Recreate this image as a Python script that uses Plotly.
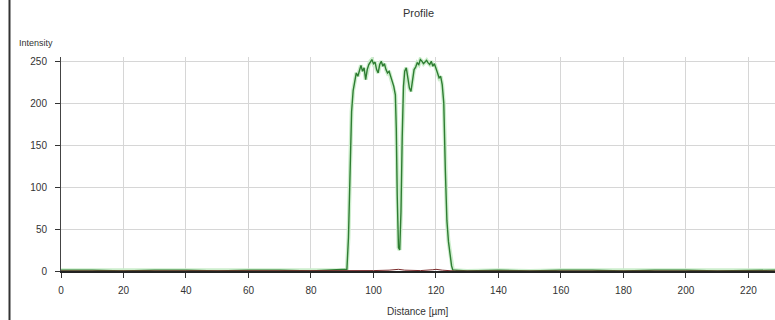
import plotly.graph_objects as go

# Green profile (intensity vs distance)
dist_green = [0, 10, 20, 30, 40, 50, 60, 70, 80, 88, 90.5, 91.5, 92.0, 92.5, 93.0, 93.5, 94.0, 94.5,
              95.0, 95.5, 96.0, 96.5, 97.0, 97.5, 98.0, 98.5, 99.0, 99.5, 100.0, 100.5, 101.0,
              101.5, 102.0, 102.5, 103.0, 103.5, 104.0, 104.5, 105.0, 105.5, 106.0, 106.5, 107.0,
              107.3, 107.6, 108.0, 108.4, 108.8, 109.2, 109.6, 110.0, 110.5, 111.0, 111.5, 112.0,
              112.5, 113.0, 113.5, 114.0, 114.5, 115.0, 115.5, 116.0, 116.5, 117.0, 117.5, 118.0,
              118.5, 119.0, 119.5, 120.0, 120.5, 121.0, 121.5, 122.0, 122.5, 123.0, 123.5, 124.0,
              124.5, 125.0, 125.4, 126, 130, 140, 150, 160, 170, 180, 190, 200, 210, 220, 228.5]
int_green = [1, 1, 0, 1, 1, 0, 1, 1, 0, 1, 1, 2, 40, 120, 190, 215, 228, 236,
             232, 240, 245, 238, 242, 228, 240, 246, 250, 252, 247, 249, 240,
             236, 246, 250, 244, 247, 240, 236, 238, 232, 226, 220, 210,
             170, 90, 28, 25, 70, 160, 220, 238, 242, 230, 218, 214,
             225, 240, 243, 248, 246, 252, 250, 247, 249, 251, 248, 246,
             250, 244, 247, 240, 236, 230, 232, 222, 200, 120, 60, 35,
             20, 6, 1, 1, 0, 1, 0, 1, 1, 0, 1, 1, 0, 1, 1]

# Red / dark channel near zero
dist_red = [0, 30, 60, 90, 100, 105, 108, 110, 115, 119, 120, 122, 126, 140, 160, 180, 200, 228.5]
int_red = [0, 0, 0, 0, 0.5, 1, 2, 1, 0.5, 1.5, 2, 1, 0, 0, 0, 0, 0, 0]

x_ticks = [0, 20, 40, 60, 80, 100, 120, 140, 160, 180, 200, 220]
y_ticks = [0, 50, 100, 150, 200, 250]

font = dict(family="Liberation Sans, DejaVu Sans, sans-serif", size=10, color="#333333")

fig = go.Figure()
fig.add_trace(go.Scatter(x=dist_green, y=int_green, mode="lines",
                         line=dict(color="#cdeecd", width=4), showlegend=False, hoverinfo="skip"))
fig.add_trace(go.Scatter(x=dist_green, y=int_green, mode="lines",
                         line=dict(color="#2e7d32", width=1.4), showlegend=False))
fig.add_trace(go.Scatter(x=dist_red, y=int_red, mode="lines",
                         line=dict(color="#7a2a2a", width=1), showlegend=False))

fig.update_layout(
    width=775, height=320,
    margin=dict(l=61, r=0, t=57, b=49),
    paper_bgcolor="white", plot_bgcolor="white",
    font=font,
    xaxis=dict(range=[0, 228.5], tickvals=x_ticks, showgrid=True, gridcolor="#d6d6d6",
               gridwidth=1, zeroline=False, showline=True, linecolor="#222222", linewidth=2,
               ticks="outside", ticklen=5, tickcolor="#333333", ticklabelstandoff=4),
    yaxis=dict(range=[0, 255], tickvals=y_ticks, showgrid=True, gridcolor="#d6d6d6",
               gridwidth=1, zeroline=False, showline=True, linecolor="#444444", linewidth=1,
               ticks="outside", ticklen=5, tickcolor="#333333", ticklabelstandoff=6),
    annotations=[
        dict(text="Profile", xref="paper", yref="paper", x=0.5, y=(271 - 13) / 214,
             showarrow=False, xanchor="center", yanchor="middle", font=dict(size=11, color="#333333")),
        dict(text="Intensity", xref="paper", yref="paper", x=(17 - 61) / 714, y=(271 - 43) / 214,
             showarrow=False, xanchor="left", yanchor="middle", font=dict(size=9, color="#333333")),
        dict(text="Distance [µm]", xref="paper", yref="paper", x=0.5, y=(271 - 311) / 214,
             showarrow=False, xanchor="center", yanchor="middle", font=dict(size=10, color="#333333")),
    ],
    shapes=[
        dict(type="line", xref="paper", yref="paper", x0=(9.5 - 61) / 714, x1=(9.5 - 61) / 714,
             y0=(271 - 320) / 214, y1=(271 - 0) / 214, line=dict(color="#333333", width=2)),
    ],
)

fig.write_html("out.html")
